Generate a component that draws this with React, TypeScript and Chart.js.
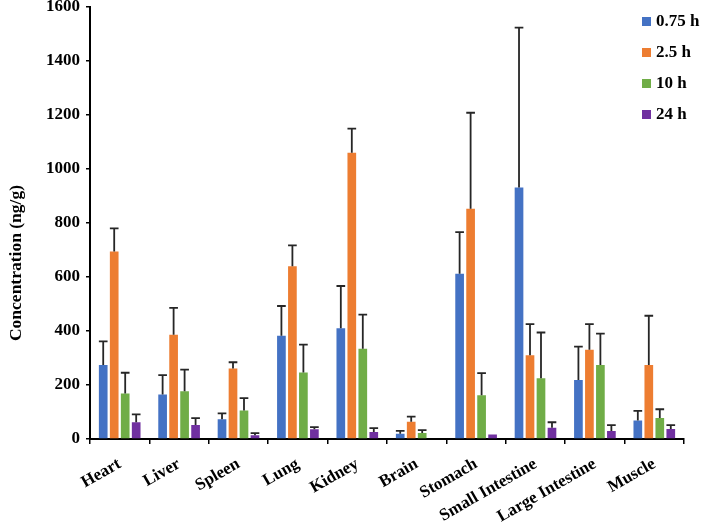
import React, { useEffect, useRef } from "react";
import { Chart, registerables } from "chart.js";

Chart.register(...registerables);

const categories = ["Heart", "Liver", "Spleen", "Lung", "Kidney", "Brain", "Stomach", "Small Intestine", "Large Intestine", "Muscle"];
const seriesNames = ["0.75 h", "2.5 h", "10 h", "24 h"];
const h075 = [274, 165, 73, 382, 410, 19, 611, 930, 218, 68];
const h075Sd = [87, 71, 22, 110, 156, 11, 154, 592, 124, 36];
const h25 = [694, 386, 261, 639, 1059, 64, 852, 310, 330, 274];
const h25Sd = [85, 99, 23, 77, 89, 19, 355, 115, 95, 182];
const h10 = [168, 177, 105, 246, 334, 22, 162, 225, 274, 78];
const h10Sd = [77, 80, 46, 103, 126, 11, 82, 169, 116, 32];
const h24 = [62, 52, 14, 36, 26, 0, 17, 42, 30, 37];
const h24Sd = [29, 25, 8, 8, 14, 0, 0, 20, 21, 14];
const yTicks = [0, 200, 400, 600, 800, 1000, 1200, 1400, 1600];
const colors = ["#4472C4", "#ED7D31", "#70AD47", "#7030A0"];
const yTitle = "Concentration (ng/g)";

const values = [h075, h25, h10, h24];
const sds = [h075Sd, h25Sd, h10Sd, h24Sd];
const FONT = "'Liberation Serif', 'Times New Roman', serif";

const errorBarPlugin = {
  id: "errorBars",
  afterDatasetsDraw(chart: any) {
    const ctx = chart.ctx;
    const y = chart.scales.y;
    ctx.save();
    ctx.strokeStyle = "#262626";
    ctx.lineWidth = 1.8;
    chart.data.datasets.forEach((ds: any, i: number) => {
      const meta = chart.getDatasetMeta(i);
      meta.data.forEach((bar: any, j: number) => {
        const sd = ds.sd[j];
        if (!sd) return;
        const top = y.getPixelForValue(ds.data[j] + sd);
        const half = bar.width / 2;
        ctx.beginPath();
        ctx.moveTo(bar.x, bar.y);
        ctx.lineTo(bar.x, top);
        ctx.moveTo(bar.x - half, top);
        ctx.lineTo(bar.x + half, top);
        ctx.stroke();
      });
    });
    ctx.restore();
  },
};

const yTitlePlugin = {
  id: "yTitle",
  afterDraw(chart: any) {
    const ctx = chart.ctx;
    ctx.save();
    ctx.translate(16, 263);
    ctx.rotate(-Math.PI / 2);
    ctx.font = `bold 17.5px ${FONT}`;
    ctx.fillStyle = "#000";
    ctx.textAlign = "center";
    ctx.textBaseline = "middle";
    ctx.fillText(yTitle, 0, 0);
    ctx.restore();
  },
};

export default function App() {
  const ref = useRef<HTMLCanvasElement>(null);
  useEffect(() => {
    if (!ref.current) return;
    const chart = new Chart(ref.current, {
      type: "bar",
      data: {
        labels: categories,
        datasets: seriesNames.map((name, i) => ({
          label: name,
          data: values[i],
          sd: sds[i],
          backgroundColor: colors[i],
          borderWidth: 0,
          categoryPercentage: 0.74,
          barPercentage: 0.79,
        })) as any,
      },
      options: {
        animation: false,
        responsive: false,
        layout: { padding: { top: 6.5, right: 18, left: 0, bottom: 0 } },
        plugins: { legend: { display: false }, tooltip: { enabled: false } },
        scales: {
          x: {
            border: { display: true, color: "#000", width: 2 },
            grid: { display: true, drawOnChartArea: false, color: "#000", lineWidth: 1.5, tickLength: 5, offset: true },
            ticks: {
              color: "#000",
              font: { family: FONT, size: 17, weight: "bold" },
              minRotation: 30,
              maxRotation: 30,
              autoSkip: false,
              padding: 10,
            },
            afterFit(scale: any) {
              scale.height = 84;
              scale.paddingLeft = 0;
              scale.paddingRight = 0;
            },
          },
          y: {
            min: 0,
            max: 1600,
            border: { display: true, color: "#000", width: 2 },
            grid: { display: true, drawOnChartArea: false, color: "#000", lineWidth: 1.5, tickLength: 4 },
            afterBuildTicks(scale: any) {
              scale.ticks = yTicks.map((v) => ({ value: v }));
            },
            ticks: {
              color: "#000",
              font: { family: FONT, size: 17, weight: "bold" },
              padding: 6,
              callback: (v: any) => String(v),
            },
            afterFit(scale: any) {
              scale.width = 90;
              scale.paddingTop = 0;
              scale.paddingBottom = 0;
            },
          },
        },
      },
      plugins: [errorBarPlugin, yTitlePlugin],
    });
    return () => chart.destroy();
  }, []);

  return (
    <div style={{ position: "absolute", left: 0, top: 0, width: 702, height: 523, background: "#fff" }}>
      <canvas ref={ref} width={702} height={523} style={{ width: 702, height: 523 }} />
      <div style={{ position: "absolute", left: 642, top: 0 }}>
        {seriesNames.map((name, i) => (
          <div
            key={name}
            style={{
              position: "absolute",
              left: 0,
              top: 21 + i * 31 - 10,
              height: 20,
              display: "flex",
              alignItems: "center",
              whiteSpace: "nowrap",
              fontFamily: FONT,
              fontWeight: "bold",
              fontSize: 17,
              color: "#000",
            }}
          >
            <span style={{ display: "inline-block", width: 9, height: 9, background: colors[i], marginRight: 5 }} />
            {name}
          </div>
        ))}
      </div>
    </div>
  );
}
